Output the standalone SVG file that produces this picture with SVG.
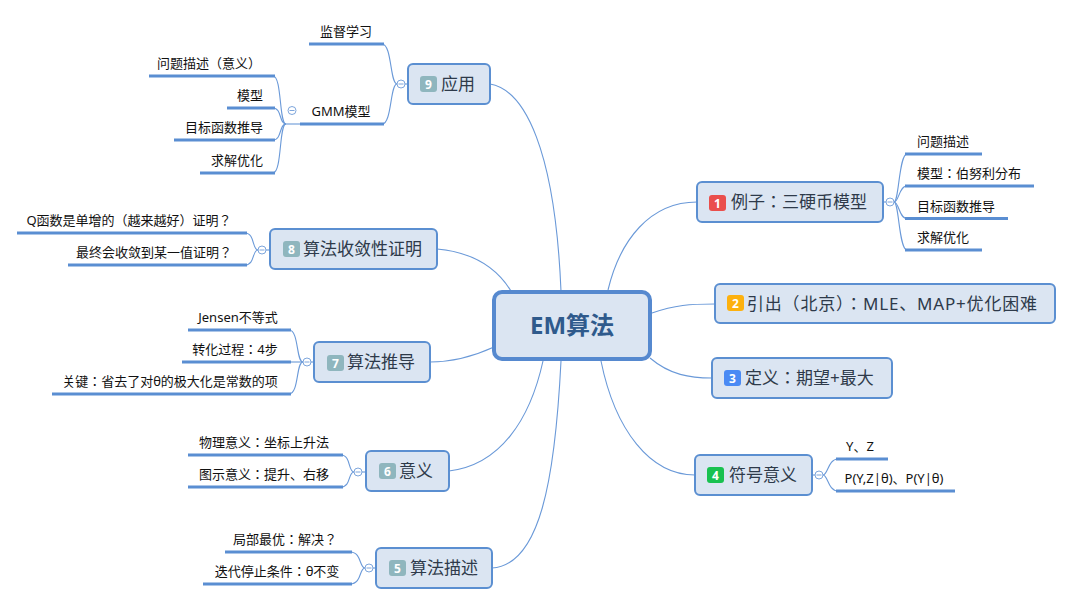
<svg xmlns="http://www.w3.org/2000/svg" width="1070" height="605" viewBox="0 0 1070 605">
<style>
text{font-family:"Noto Sans","Noto Sans CJK JP",sans-serif}
.box{fill:#dbe5f2;stroke:#5b8fd1;stroke-width:2}
.center{fill:#dbe5f2;stroke:#5689cf;stroke-width:4}
.conn{fill:none;stroke:#6a99d8;stroke-width:1.1}
.ul{stroke:#5a8ed2;stroke-width:3;fill:none}
.col{fill:#fff;stroke:#7ea6dc;stroke-width:1}
.cm{stroke:#7ea6dc;stroke-width:1}
.t{font-size:13px;fill:#111;text-anchor:middle}
.nt{font-size:17px;fill:#2e3a4a}
.bt{font-size:12px;font-weight:bold;fill:#fff;text-anchor:middle}
.gray{fill:#8fb6be}
</style>
<rect width="1070" height="605" fill="#fff"/>
<g id="connectors">
<path class="conn" d="M608,290 C620,240 650,202 697,202"/>
<path class="conn" d="M652,313 C675,305 690,304 715,304"/>
<path class="conn" d="M650,358 C670,375 690,378 712,378"/>
<path class="conn" d="M601,361 C615,430 650,475 695,475"/>
<path class="conn" d="M561,361 C555,480 540,565 492,568"/>
<path class="conn" d="M543,361 C530,420 500,465 449,471"/>
<path class="conn" d="M494,347 C470,358 450,362 430,362"/>
<path class="conn" d="M437,249 C470,252 495,265 511,291"/>
<path class="conn" d="M490,84 C525,90 555,150 561,291"/>
<path class="conn" d="M883,202 L886,202"/>
<path class="conn" d="M894,202 C899,202 899,154 907,154"/>
<path class="conn" d="M894,202 C899,202 899,186 907,186"/>
<path class="conn" d="M894,202 C899,202 899,218.5 907,218.5"/>
<path class="conn" d="M894,202 C899,202 899,250 907,250"/>
<path class="conn" d="M812,475 L815,475"/>
<path class="conn" d="M823,475 C828,475 828,459 838,459"/>
<path class="conn" d="M823,475 C828,475 828,491 838,491"/>
<path class="conn" d="M408,84 L405,84"/>
<path class="conn" d="M397,84 C390,84 392,44 382,44"/>
<path class="conn" d="M397,84 C390,84 392,124 382,124"/>
<path class="conn" d="M300,124 L286,124"/>
<path class="conn" d="M286,124 C279,124 282,76 273,76"/>
<path class="conn" d="M286,124 C279,124 282,108 273,108"/>
<path class="conn" d="M286,124 C279,124 282,140 273,140"/>
<path class="conn" d="M286,124 C279,124 282,173 273,173"/>
<path class="conn" d="M270,250 L266,250"/>
<path class="conn" d="M258,250 C252,250 255,233 245,233"/>
<path class="conn" d="M258,250 C252,250 255,265 245,265"/>
<path class="conn" d="M314,362 L311,362"/>
<path class="conn" d="M303,362 C296,362 299,330 289,330"/>
<path class="conn" d="M303,362 L289,362"/>
<path class="conn" d="M303,362 C296,362 299,394 289,394"/>
<path class="conn" d="M366,472 L362,472"/>
<path class="conn" d="M354,472 C348,472 351,455 341,455"/>
<path class="conn" d="M354,472 C348,472 351,487 341,487"/>
<path class="conn" d="M376,568 L373,568"/>
<path class="conn" d="M365,568 C359,568 362,552 350,552"/>
<path class="conn" d="M365,568 C359,568 362,584 350,584"/>
</g>

<g id="center">
<rect class="center" x="494" y="292" width="156" height="67" rx="8"/>
<text x="572" y="334" font-size="24" font-weight="bold" fill="#2f5a8c" text-anchor="middle">EM算法</text>
</g>

<g id="node1">
<rect class="box" x="697" y="182" width="186" height="40" rx="5"/>
<rect x="709" y="195" width="17" height="16" rx="3" fill="#ea4f4c"/>
<text class="bt" x="717.5" y="207.5">1</text>
<text class="nt" x="731" y="208">例子：三硬币模型</text>
<circle class="col" cx="890" cy="202" r="4"/><line class="cm" x1="887.5" y1="202" x2="892.5" y2="202"/>
</g>
<g id="node1-1"><line class="ul" x1="905" y1="154" x2="982" y2="154"/><text class="t" x="943" y="146">问题描述</text></g>
<g id="node1-2"><line class="ul" x1="905" y1="186" x2="1034" y2="186"/><text class="t" x="969" y="178">模型：伯努利分布</text></g>
<g id="node1-3"><line class="ul" x1="905" y1="218.5" x2="1008" y2="218.5"/><text class="t" x="956" y="210.5">目标函数推导</text></g>
<g id="node1-4"><line class="ul" x1="905" y1="250" x2="982" y2="250"/><text class="t" x="943" y="242">求解优化</text></g>

<g id="node2">
<rect class="box" x="715" y="284" width="340" height="39" rx="5"/>
<rect x="727" y="295" width="17" height="16" rx="3" fill="#fdb10f"/>
<text class="bt" x="735.5" y="307.5">2</text>
<text class="nt" x="747" y="310" textLength="290" lengthAdjust="spacing">引出（北京）：MLE、MAP+优化困难</text>
</g>

<g id="node3">
<rect class="box" x="712" y="358" width="180" height="40" rx="5"/>
<rect x="724" y="370" width="17" height="16" rx="3" fill="#4a8af4"/>
<text class="bt" x="732.5" y="382.5">3</text>
<text class="nt" x="745" y="384">定义：期望+最大</text>
</g>

<g id="node4">
<rect class="box" x="695" y="455" width="117" height="40" rx="5"/>
<rect x="707" y="467" width="17" height="16" rx="3" fill="#19c150"/>
<text class="bt" x="715.5" y="479.5">4</text>
<text class="nt" x="729" y="481">符号意义</text>
<circle class="col" cx="819" cy="475" r="4"/><line class="cm" x1="816.5" y1="475" x2="821.5" y2="475"/>
</g>
<g id="node4-1"><line class="ul" x1="836" y1="459" x2="888" y2="459"/><text class="t" x="860" y="451">Y、Z</text></g>
<g id="node4-2"><line class="ul" x1="836" y1="491" x2="955" y2="491"/><text class="t" x="894" y="483">P(Y,Z|θ)、P(Y|θ)</text></g>

<g id="node5">
<rect class="box" x="376" y="548" width="116" height="40" rx="5"/>
<rect class="gray" x="389" y="560" width="17" height="16" rx="3"/>
<text class="bt" x="397.5" y="572.5">5</text>
<text class="nt" x="410" y="574">算法描述</text>
<circle class="col" cx="369" cy="568" r="4"/><line class="cm" x1="366.5" y1="568" x2="371.5" y2="568"/>
</g>
<g id="node5-1"><line class="ul" x1="225" y1="552" x2="352" y2="552"/><text class="t" x="285" y="544">局部最优：解决？</text></g>
<g id="node5-2"><line class="ul" x1="203" y1="584" x2="352" y2="584"/><text class="t" x="277" y="576">迭代停止条件：θ不变</text></g>

<g id="node6">
<rect class="box" x="366" y="451" width="83" height="40" rx="5"/>
<rect class="gray" x="379" y="463" width="17" height="16" rx="3"/>
<text class="bt" x="387.5" y="475.5">6</text>
<text class="nt" x="399" y="477">意义</text>
<circle class="col" cx="358" cy="472" r="4"/><line class="cm" x1="355.5" y1="472" x2="360.5" y2="472"/>
</g>
<g id="node6-1"><line class="ul" x1="188" y1="455" x2="343" y2="455"/><text class="t" x="264" y="447">物理意义：坐标上升法</text></g>
<g id="node6-2"><line class="ul" x1="188" y1="487" x2="343" y2="487"/><text class="t" x="264" y="479">图示意义：提升、右移</text></g>

<g id="node7">
<rect class="box" x="314" y="342" width="116" height="40" rx="5"/>
<rect class="gray" x="327" y="355" width="17" height="16" rx="3"/>
<text class="bt" x="335.5" y="367.5">7</text>
<text class="nt" x="347" y="368">算法推导</text>
<circle class="col" cx="307" cy="362" r="4"/><line class="cm" x1="304.5" y1="362" x2="309.5" y2="362"/>
</g>
<g id="node7-1"><line class="ul" x1="188" y1="330" x2="291" y2="330"/><text class="t" x="238" y="322">Jensen不等式</text></g>
<g id="node7-2"><line class="ul" x1="182" y1="362" x2="291" y2="362"/><text class="t" x="235" y="354">转化过程：4步</text></g>
<g id="node7-3"><line class="ul" x1="52" y1="394" x2="291" y2="394"/><text class="t" x="170" y="386">关键：省去了对θ的极大化是常数的项</text></g>

<g id="node8">
<rect class="box" x="270" y="229" width="167" height="40" rx="5"/>
<rect class="gray" x="283" y="241" width="17" height="16" rx="3"/>
<text class="bt" x="291.5" y="253.5">8</text>
<text class="nt" x="303" y="255">算法收敛性证明</text>
<circle class="col" cx="262" cy="250" r="4"/><line class="cm" x1="259.5" y1="250" x2="264.5" y2="250"/>
</g>
<g id="node8-1"><line class="ul" x1="17" y1="233" x2="247" y2="233"/><text class="t" x="129" y="225">Q函数是单增的（越来越好）证明？</text></g>
<g id="node8-2"><line class="ul" x1="68" y1="265" x2="247" y2="265"/><text class="t" x="154" y="257">最终会收敛到某一值证明？</text></g>

<g id="node9">
<rect class="box" x="408" y="64" width="82" height="40" rx="5"/>
<rect class="gray" x="420" y="76" width="17" height="16" rx="3"/>
<text class="bt" x="428.5" y="88.5">9</text>
<text class="nt" x="441" y="90">应用</text>
<circle class="col" cx="401" cy="84" r="4"/><line class="cm" x1="398.5" y1="84" x2="403.5" y2="84"/>
</g>
<g id="node9-1"><line class="ul" x1="309" y1="44" x2="384" y2="44"/><text class="t" x="346" y="36">监督学习</text></g>
<g id="node9-2"><line class="ul" x1="300" y1="124" x2="384" y2="124"/><text class="t" x="341" y="116">GMM模型</text>
<circle class="col" cx="292" cy="110.5" r="4"/><line class="cm" x1="289.5" y1="110.5" x2="294.5" y2="110.5"/>
</g>
<g id="node9-2-1"><line class="ul" x1="149" y1="76" x2="275" y2="76"/><text class="t" x="209" y="68">问题描述（意义）</text></g>
<g id="node9-2-2"><line class="ul" x1="227" y1="108" x2="275" y2="108"/><text class="t" x="250" y="100">模型</text></g>
<g id="node9-2-3"><line class="ul" x1="174" y1="140" x2="275" y2="140"/><text class="t" x="224" y="132">目标函数推导</text></g>
<g id="node9-2-4"><line class="ul" x1="200" y1="173" x2="275" y2="173"/><text class="t" x="237" y="165">求解优化</text></g>
</svg>
